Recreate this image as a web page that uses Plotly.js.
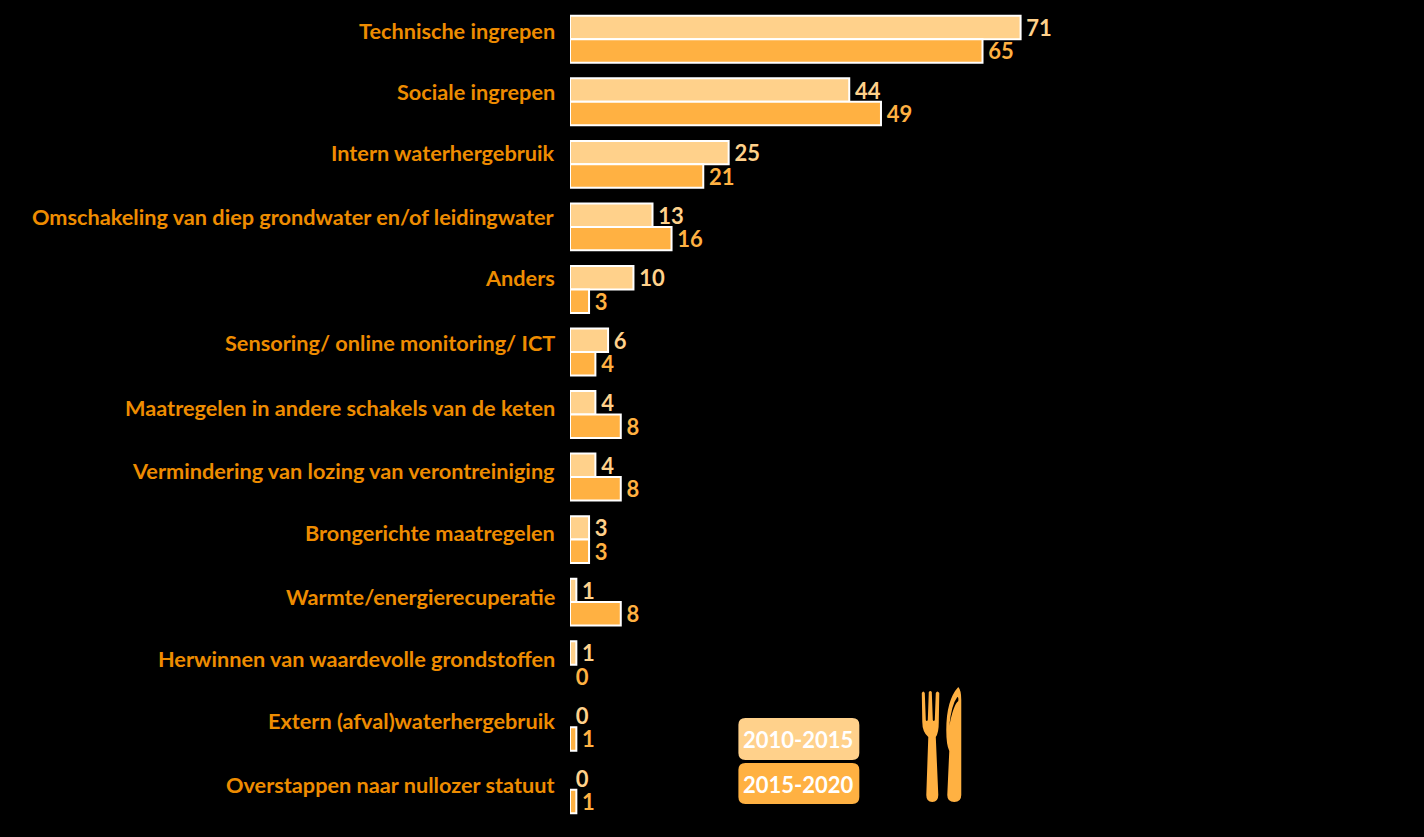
<!DOCTYPE html>
<html><head><meta charset="utf-8">
<script src="https://cdn.plot.ly/plotly-3.0.1.min.js"></script>
<style>html,body{margin:0;padding:0;background:#000}#c{width:1424px;height:837px}</style>
</head><body><div id="c"></div>
<script>
const categories = ["Technische ingrepen","Sociale ingrepen","Intern waterhergebruik","Omschakeling van diep grondwater en/of leidingwater","Anders","Sensoring/ online monitoring/ ICT","Maatregelen in andere schakels van de keten","Vermindering van lozing van verontreiniging","Brongerichte maatregelen","Warmte/energierecuperatie","Herwinnen van waardevolle grondstoffen","Extern (afval)waterhergebruik","Overstappen naar nullozer statuut"];
const series2010 = [71,44,25,13,10,6,4,4,3,1,1,0,0];
const series2015 = [65,49,21,16,3,4,8,8,3,8,0,1,1];
const labelLift = [8,10,11,10,11,9,7,6,7,5,6,6,5];
const W=1424,H=837,L=569.5,T=8,PW=854.5,PH=813;
const LIGHT="#FFD18B",ORANGE="#FFB142",LABEL="#EE8C00",FONT="Lato, 'Open Sans', sans-serif";
const px=x=>(x-L)/PW, py=y=>1-(y-T)/PH;
function path(d){ // d written in page pixels, converted to paper fractions
  return d.replace(/(-?[\d.]+),(-?[\d.]+)/g,(m,a,b)=>px(+a).toFixed(5)+","+py(+b).toFixed(5));
}
function rr(x0,y0,x1,y1,r){
  return path(`M${x0+r},${y0} L${x1-r},${y0} Q${x1},${y0} ${x1},${y0+r} L${x1},${y1-r} Q${x1},${y1} ${x1-r},${y1} L${x0+r},${y1} Q${x0},${y1} ${x0},${y1-r} L${x0},${y0+r} Q${x0},${y0} ${x0+r},${y0} Z`);
}
const shp=(d,c)=>({type:"path",xref:"paper",yref:"paper",path:d,fillcolor:c,line:{width:0},layer:"above"});
const fork="M921.5,693 Q923,690 924.5,693 L925.5,720 Q926.5,722 927.5,720 L928.5,692 Q930,690 931.5,692 L932.5,720 Q933.5,722 934.5,720 L935.5,693 Q937,690 939,693 L938.5,722 Q938.5,733 935.5,737 L938,795 Q938,802 932,802 Q926,802 926,795 L928,737 Q922,732 922,722 Z";
const knife="M958,687 Q961,690 961,700 L961,795 Q961,802 954,802 Q947,802 947,795 L949,751 Q946,745 946,730 Q946,700 958,687 Z";
const glint="M957,697 Q951,705 949,726 Q953,705 958,701 Q958.5,697 957,697 Z";
const bar=(name,vals,fill)=>({type:"bar",orientation:"h",name:name,y:categories,x:vals,
  marker:{color:fill,line:{color:"#FFFFFF",width:vals.map(v=>v===0?0:2)}},text:vals.map(v=>"\u2009"+v),textposition:"outside",constraintext:"none",
  textfont:{family:FONT,size:22,color:fill,weight:700},cliponaxis:false,showlegend:false,hoverinfo:"skip"});
const anns=categories.map((c,i)=>({xref:"x",yref:"y",x:0,y:c,text:c,showarrow:false,xanchor:"right",yanchor:"middle",
  xshift:-13.5,yshift:labelLift[i],font:{family:FONT,size:21.7,color:LABEL,weight:700}}));
const legendText=(t,y)=>({xref:"paper",yref:"paper",x:px(798),y:py(y),text:t,showarrow:false,xanchor:"center",yanchor:"middle",
  font:{family:FONT,size:22,color:"#FFFFFF",weight:700}});
anns.push(legendText("2010-2015",739),legendText("2015-2020",784));
Plotly.newPlot("c",[bar("2010-2015",series2010,LIGHT),bar("2015-2020",series2015,ORANGE)],{
  width:W,height:H,paper_bgcolor:"#000",plot_bgcolor:"#000",
  margin:{l:L,r:0,t:T,b:H-T-PH,pad:0},barmode:"group",bargap:0.25,bargroupgap:0,
  xaxis:{range:[0,PW/6.35],visible:false,fixedrange:true},
  yaxis:{type:"category",categoryorder:"array",categoryarray:categories,range:[12.5,-0.5],visible:false,fixedrange:true},
  annotations:anns,
  shapes:[shp(rr(738,718,859,760,7),LIGHT),shp(rr(738,763,859,804,7),ORANGE),shp(path(fork),ORANGE),shp(path(knife),ORANGE),shp(path(glint),"#000")]
},{displayModeBar:false,staticPlot:true});
</script></body></html>
